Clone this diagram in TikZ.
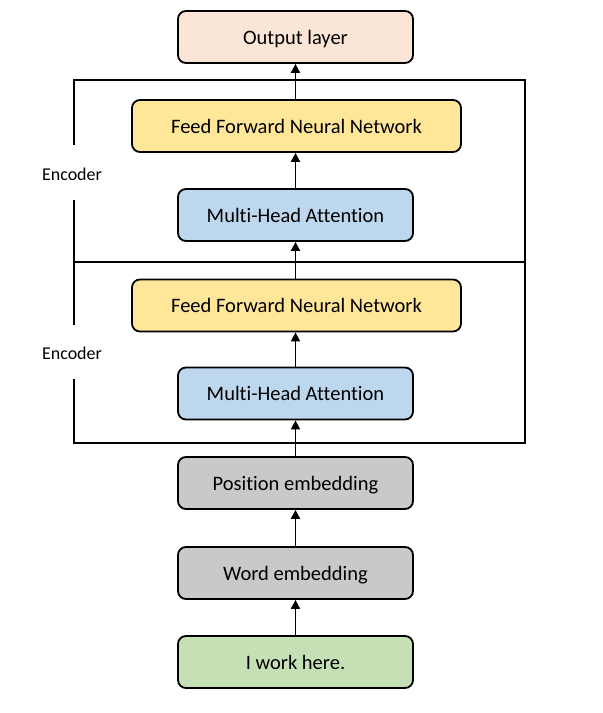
\documentclass[tikz,border=0pt]{standalone}
\usepackage{fontspec}
\setmainfont{Carlito}[Ligatures=NoCommon]
\usetikzlibrary{arrows.meta}
\definecolor{outc}{HTML}{FBE5D6}
\definecolor{ffnc}{HTML}{FFE699}
\definecolor{mhac}{HTML}{BDD7EE}
\definecolor{embc}{HTML}{C9C9C9}
\definecolor{inc}{HTML}{C5E0B4}
\begin{document}
\begin{tikzpicture}[x=1pt,y=-1pt,
  blk/.style={draw=black, line width=1.8pt, rounded corners=8pt, inner sep=0pt,
    minimum height=52pt, text height=15.5pt, text depth=1.5pt,
    font=\fontsize{20.5}{22}\selectfont},
  narrow/.style={blk, minimum width=235pt},
  wide/.style={blk, minimum width=329pt},
  arr/.style={-{Triangle[length=9pt,width=9pt]}, line width=1.8pt},
  frame/.style={line width=1.8pt},
  lbl/.style={font=\fontsize{18}{20}\selectfont, inner sep=0pt}]
\useasboundingbox (0,0) rectangle (603,713);
\node[narrow, fill=outc] (out) at (295.5,37) {Output layer};
\node[wide, fill=ffnc] (ffn2) at (296.5,126) {Feed Forward Neural Network};
\node[narrow, fill=mhac] (mha2) at (295.5,215) {Multi-Head Attention};
\node[wide, fill=ffnc] (ffn1) at (296.5,305.5) {Feed Forward Neural Network};
\node[narrow, fill=mhac] (mha1) at (295.5,393.5) {Multi-Head Attention};
\node[narrow, fill=embc] (pos) at (295.5,483) {Position embedding};
\node[narrow, fill=embc] (word) at (295.5,573) {Word embedding};
\node[narrow, fill=inc] (inp) at (295.5,662) {I work here.};
\node[lbl] (enc2) at (72,174) {Encoder};
\node[lbl] (enc1) at (72,353) {Encoder};
\coordinate (tl) at (74,80);
\coordinate (tr) at (525,80);
\coordinate (ml) at (74,262);
\coordinate (mr) at (525,262);
\coordinate (bl) at (74,443);
\coordinate (br) at (525,443);
\coordinate (g1a) at (74,145);
\coordinate (g1b) at (74,200);
\coordinate (g2a) at (74,325);
\coordinate (g2b) at (74,379);
\draw[frame] (g1a) -- (tl) -- (tr) -- (br) -- (bl) -- (g2b);
\draw[frame] (g1b) -- (g2a);
\draw[frame] (ml) -- (mr);
\draw[arr] (inp) -- (word);
\draw[arr] (word) -- (pos);
\draw[arr] (pos) -- (mha1);
\draw[arr] (mha1) -- (ffn1.south -| mha1.north);
\draw[arr] (ffn1.north -| mha2.south) -- (mha2);
\draw[arr] (mha2) -- (ffn2.south -| mha2.north);
\draw[arr] (ffn2.north -| out.south) -- (out);
\end{tikzpicture}
\end{document}
